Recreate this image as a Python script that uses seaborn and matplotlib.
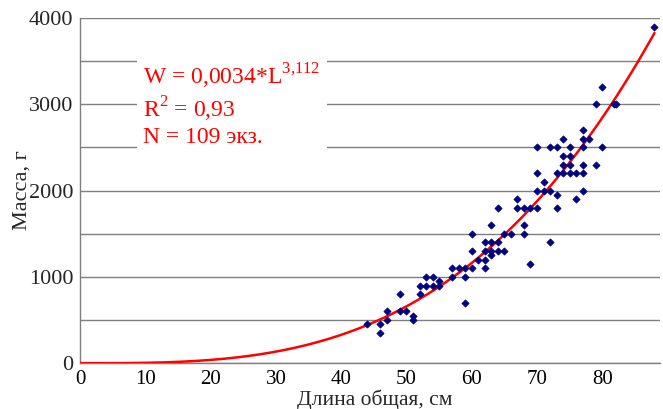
import numpy as np
import pandas as pd
import matplotlib
matplotlib.use("Agg")
import matplotlib.pyplot as plt
from matplotlib.ticker import MultipleLocator
import seaborn as sns

# --- данные ---
length_cm = [44, 46, 46, 47, 47, 49, 49, 50, 51, 51, 52, 52, 53, 53, 54, 54, 55, 55,
             57, 57, 58, 59, 59, 59, 60, 60, 60, 61, 62, 62, 62, 62, 63, 63, 63, 63,
             64, 64, 64, 65, 65, 66, 67, 67, 68, 68, 68, 69, 69, 70, 70, 70, 70, 71,
             71, 72, 72, 72, 73, 73, 73, 73, 74, 74, 74, 74, 75, 75, 75, 75, 76, 76,
             77, 77, 77, 77, 77, 77, 78, 79, 79, 80, 80, 81.8, 82.1, 88]
mass_g = [450, 450, 350, 600, 500, 800, 600, 600, 550, 500, 800, 900, 900, 1000, 900, 1000, 900, 950,
          1100, 1000, 1100, 1100, 1000, 700, 1100, 1300, 1500, 1200, 1200, 1100, 1300, 1400, 1400, 1300, 1250, 1600,
          1300, 1400, 1800, 1300, 1500, 1500, 1800, 1900, 1800, 1600, 1500, 1800, 1150, 1800, 2000, 2200, 2500, 2100,
          2000, 2000, 2500, 1400, 2500, 2200, 1950, 1800, 2600, 2400, 2300, 2200, 2500, 2400, 2300, 2200, 2200, 1900,
          2700, 2600, 2500, 2300, 2200, 2000, 2600, 2300, 3000, 2500, 3200, 3000, 3000, 3900]

# коэффициенты степенной зависимости W = a*L^b (из подписи на графике)
coef_a = 0.0034
coef_b = 3.112
curve_max_len = 88

x_ticks = [0, 10, 20, 30, 40, 50, 60, 70, 80]
y_ticks = [0, 1000, 2000, 3000, 4000]

points = pd.DataFrame({"L": length_cm, "W": mass_g})
curve_len = np.linspace(0, curve_max_len, 200)
curve = pd.DataFrame({"L": curve_len, "W": coef_a * curve_len ** coef_b})

sns.set_theme(style="white")
plt.rcParams["font.family"] = ["Liberation Serif", "DejaVu Serif"]
plt.rcParams["mathtext.fontset"] = "custom"
plt.rcParams["mathtext.rm"] = "Liberation Serif"

fig = plt.figure(figsize=(6.63, 4.09), dpi=100)
ax = fig.add_axes([0.121, 0.112, 0.874, 0.844])

# сетка через 500 г, подписи через 1000 г
ax.yaxis.set_minor_locator(MultipleLocator(500))
ax.grid(True, axis="y", which="both", color="#7f7f7f", linewidth=1.0)
ax.set_axisbelow(True)

sns.lineplot(data=curve, x="L", y="W", color="#ff0000", linewidth=1.8, ax=ax, zorder=3)
sns.scatterplot(data=points, x="L", y="W", color="#00007f", marker="D", s=13,
                edgecolor="#00007f", linewidth=0.6, ax=ax, zorder=4)

ax.set_xlim(0, 88.8)
ax.set_ylim(0, 4000)
ax.set_xticks(x_ticks)
ax.set_yticks(y_ticks)
ax.tick_params(axis="x", which="major", length=5, width=1, color="#7f7f7f",
               direction="out", labelsize=15, pad=0, labelcolor="black")
ax.tick_params(axis="y", which="both", length=0, labelsize=16, pad=5)

for side in ["top", "right"]:
    ax.spines[side].set_visible(False)
for side in ["left", "bottom"]:
    ax.spines[side].set_color("#7f7f7f")
    ax.spines[side].set_linewidth(1.0)

ax.set_xlabel("Длина общая, см", fontsize=15.5)
ax.xaxis.set_label_coords(0.509, -0.075)
ax.set_ylabel("Масса, г", fontsize=16, labelpad=-2)

ax.text(0.109, 0.872,
        "W = 0,0034*L$^{3{,}112}$\nR$^{2}$ = 0,93\nN = 109 экз.",
        transform=ax.transAxes, color="#ff0000", fontsize=17, va="top", ha="left",
        linespacing=1.15, zorder=2,
        bbox=dict(facecolor="white", edgecolor="none", pad=5))

fig.savefig("out.png", dpi=100)
